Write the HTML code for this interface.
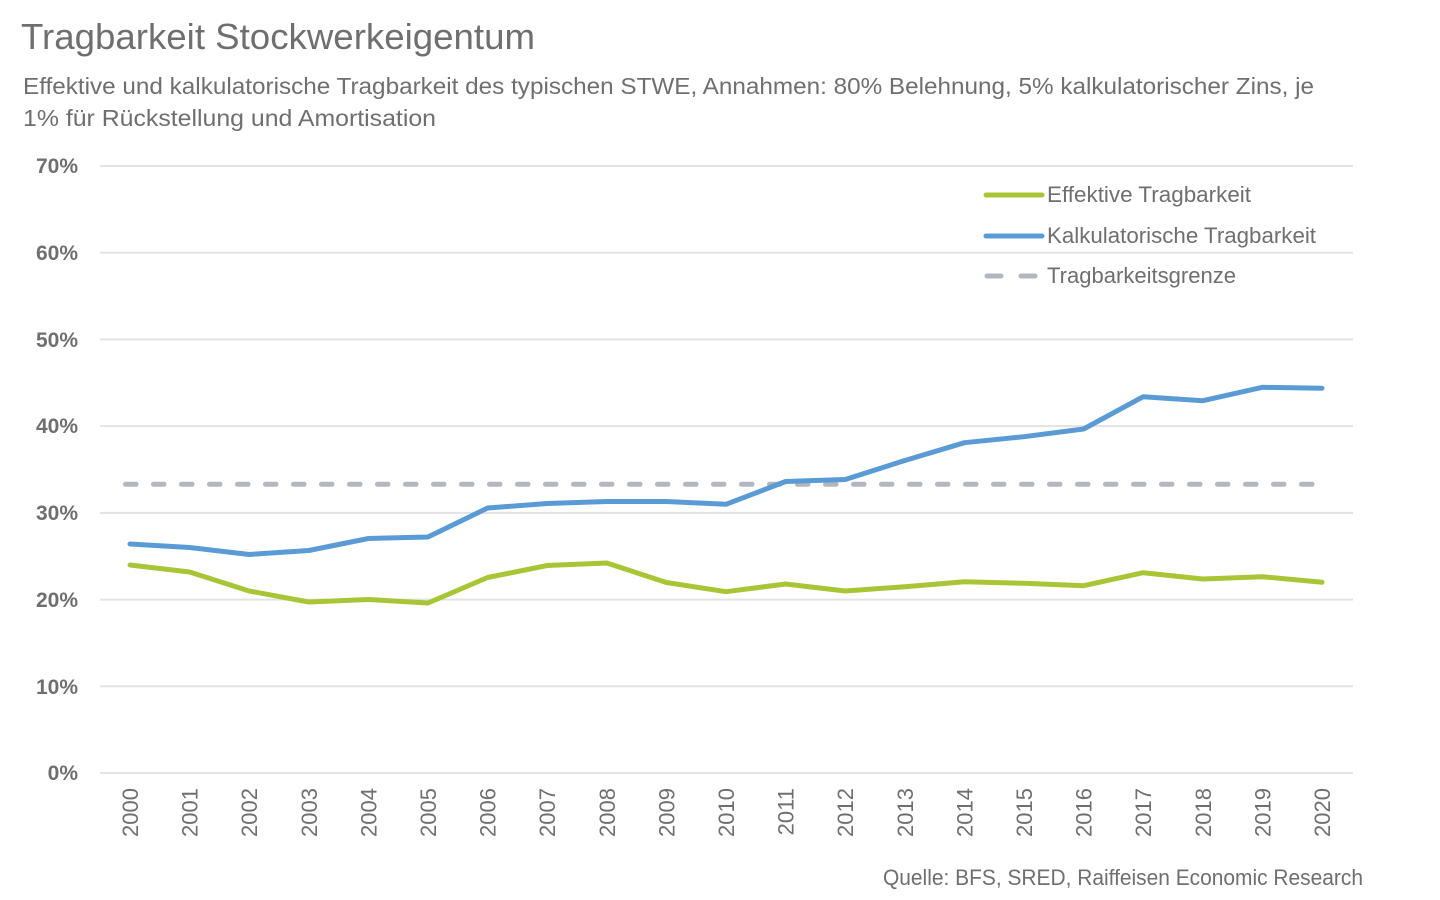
<!DOCTYPE html>
<html>
<head>
<meta charset="utf-8">
<style>
html,body{margin:0;padding:0;background:#fff;}
svg{display:block;}
text{font-family:"Liberation Sans",sans-serif;}
</style>
</head>
<body>
<svg width="1440" height="900" viewBox="0 0 1440 900" xmlns="http://www.w3.org/2000/svg">
<rect width="1440" height="900" fill="#fff"/>
<text x="21" y="49" font-size="36" fill="#6f6f6f" textLength="514" lengthAdjust="spacingAndGlyphs">Tragbarkeit Stockwerkeigentum</text>
<text x="23" y="94" font-size="23" fill="#6f6f6f" textLength="1291" lengthAdjust="spacingAndGlyphs">Effektive und kalkulatorische Tragbarkeit des typischen STWE, Annahmen: 80% Belehnung, 5% kalkulatorischer Zins, je</text>
<text x="23" y="126" font-size="23" fill="#6f6f6f" textLength="413" lengthAdjust="spacingAndGlyphs">1% für Rückstellung und Amortisation</text>

<g stroke="#e3e3e3" stroke-width="2">
<line x1="100" y1="166" x2="1353" y2="166"/>
<line x1="100" y1="252.7" x2="1353" y2="252.7"/>
<line x1="100" y1="339.4" x2="1353" y2="339.4"/>
<line x1="100" y1="426.1" x2="1353" y2="426.1"/>
<line x1="100" y1="512.9" x2="1353" y2="512.9"/>
<line x1="100" y1="599.6" x2="1353" y2="599.6"/>
<line x1="100" y1="686.3" x2="1353" y2="686.3"/>
<line x1="100" y1="773" x2="1353" y2="773"/>
</g>
<g font-size="21" font-weight="bold" fill="#6f6f6f" text-anchor="end">
<text x="78" y="173">70%</text>
<text x="78" y="260">60%</text>
<text x="78" y="347">50%</text>
<text x="78" y="433">40%</text>
<text x="78" y="520">30%</text>
<text x="78" y="607">20%</text>
<text x="78" y="694">10%</text>
<text x="78" y="780">0%</text>
</g>
<g font-size="22" fill="#6f6f6f" text-anchor="end">
<text transform="translate(138,788) rotate(-90)">2000</text>
<text transform="translate(197.6,788) rotate(-90)">2001</text>
<text transform="translate(257.2,788) rotate(-90)">2002</text>
<text transform="translate(316.8,788) rotate(-90)">2003</text>
<text transform="translate(376.4,788) rotate(-90)">2004</text>
<text transform="translate(436,788) rotate(-90)">2005</text>
<text transform="translate(495.6,788) rotate(-90)">2006</text>
<text transform="translate(555.2,788) rotate(-90)">2007</text>
<text transform="translate(614.8,788) rotate(-90)">2008</text>
<text transform="translate(674.4,788) rotate(-90)">2009</text>
<text transform="translate(734,788) rotate(-90)">2010</text>
<text transform="translate(793.6,788) rotate(-90)">2011</text>
<text transform="translate(853.2,788) rotate(-90)">2012</text>
<text transform="translate(912.8,788) rotate(-90)">2013</text>
<text transform="translate(972.4,788) rotate(-90)">2014</text>
<text transform="translate(1032,788) rotate(-90)">2015</text>
<text transform="translate(1091.6,788) rotate(-90)">2016</text>
<text transform="translate(1151.2,788) rotate(-90)">2017</text>
<text transform="translate(1210.8,788) rotate(-90)">2018</text>
<text transform="translate(1270.4,788) rotate(-90)">2019</text>
<text transform="translate(1330,788) rotate(-90)">2020</text>
</g>

<line x1="125.5" y1="484.3" x2="1323" y2="484.3" stroke="#b3b6c1" stroke-width="5" stroke-linecap="round" stroke-dasharray="10.5 17.5"/>

<polyline fill="none" stroke="#5b9bd5" stroke-width="5" stroke-linejoin="round" stroke-linecap="round"
points="130,544 189.6,547.5 249.2,554.5 308.8,550.5 368.4,538.5 428,537 487.6,508 547.2,503.5 606.8,501.5 666.4,501.5 726,504.3 785.6,481.5 845.2,479.5 904.8,460.5 964.4,442.7 1024,436.7 1083.6,429 1143.2,396.7 1202.8,400.7 1262.4,387.3 1322,388.3"/>
<polyline fill="none" stroke="#a8c536" stroke-width="5" stroke-linejoin="round" stroke-linecap="round"
points="130,565 189.6,572 249.2,591 308.8,602 368.4,599.5 428,603 487.6,577.5 547.2,565.5 606.8,563 666.4,582.5 726,591.7 785.6,584 845.2,591 904.8,586.7 964.4,581.7 1024,583.3 1083.6,585.7 1143.2,572.7 1202.8,579 1262.4,576.7 1322,582.3"/>

<line x1="986" y1="195" x2="1042" y2="195" stroke="#a8c536" stroke-width="5" stroke-linecap="round"/>
<line x1="986" y1="236" x2="1042" y2="236" stroke="#5b9bd5" stroke-width="5" stroke-linecap="round"/>
<line x1="987" y1="276" x2="1001" y2="276" stroke="#b3b6c1" stroke-width="5" stroke-linecap="round"/>
<line x1="1021" y1="276" x2="1035" y2="276" stroke="#b3b6c1" stroke-width="5" stroke-linecap="round"/>
<g font-size="22" fill="#6f6f6f">
<text x="1047" y="202" textLength="204" lengthAdjust="spacingAndGlyphs">Effektive Tragbarkeit</text>
<text x="1047" y="243" textLength="269" lengthAdjust="spacingAndGlyphs">Kalkulatorische Tragbarkeit</text>
<text x="1047" y="283" textLength="189" lengthAdjust="spacingAndGlyphs">Tragbarkeitsgrenze</text>
</g>
<text x="883" y="885" font-size="22" fill="#6f6f6f" textLength="480" lengthAdjust="spacingAndGlyphs">Quelle: BFS, SRED, Raiffeisen Economic Research</text>
</svg>
</body>
</html>
